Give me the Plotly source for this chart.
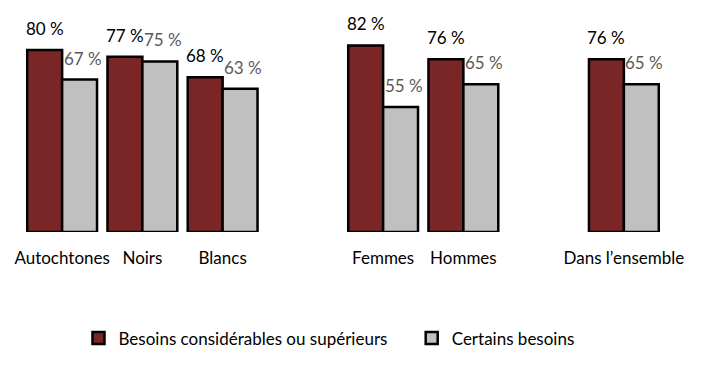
import plotly.graph_objects as go

categories = ["Autochtones", "Noirs", "Blancs", "Femmes", "Hommes", "Dans l’ensemble"]
slots = [0, 1, 2, 4, 5, 7]
series1_name = "Besoins considérables ou supérieurs"
series2_name = "Certains besoins"
series1 = [80, 77, 68, 82, 76, 76]
series2 = [67, 75, 63, 55, 65, 65]

font = "Lato"
fs = 17
bargap = 0.13
half = (1 - bargap) / 4  # offset of each bar centre within a group

fig = go.Figure()
fig.add_trace(go.Bar(
    x=slots, y=series1, name=series1_name,
    marker=dict(color="#7B2626", line=dict(color="black", width=2.5)),
    legend="legend",
))
fig.add_trace(go.Bar(
    x=slots, y=series2, name=series2_name,
    marker=dict(color="#C0C0C0", line=dict(color="black", width=2.5)),
    legend="legend2",
))

for s, v in zip(slots, series1):
    fig.add_annotation(x=s - half, y=v, text=f"{v} %", showarrow=False,
                       yanchor="bottom", yshift=9,
                       font=dict(family=font, size=fs, color="black"))
for s, v in zip(slots, series2):
    fig.add_annotation(x=s + half, y=v, text=f"{v} %", showarrow=False,
                       yanchor="bottom", yshift=9, xshift=3,
                       font=dict(family=font, size=fs, color="#595959"))

# page has an 8px body margin; compensate so the plot lands where the reference has it
fig.update_layout(
    width=701, height=370,
    margin=dict(l=14, r=45, t=2, b=146, autoexpand=False),
    plot_bgcolor="white", paper_bgcolor="white",
    barmode="group", bargap=bargap, bargroupgap=0,
    font=dict(family=font, size=fs, color="black"),
    xaxis=dict(range=[-0.5, 7.5], tickvals=slots, ticktext=categories,
               showgrid=False, zeroline=False, showline=False,
               ticks="", ticklabelstandoff=14,
               tickfont=dict(family=font, size=fs, color="black")),
    yaxis=dict(range=[0, 97.6], visible=False, showgrid=False),
    showlegend=True,
    legend=dict(orientation="h", x=0.088, xanchor="left", y=-0.48, yanchor="middle",
                font=dict(family=font, size=fs, color="black"), itemwidth=30),
    legend2=dict(orientation="h", x=0.607, xanchor="left", y=-0.48, yanchor="middle",
                 font=dict(family=font, size=fs, color="black"), itemwidth=30),
)

fig.write_html("out.html")
